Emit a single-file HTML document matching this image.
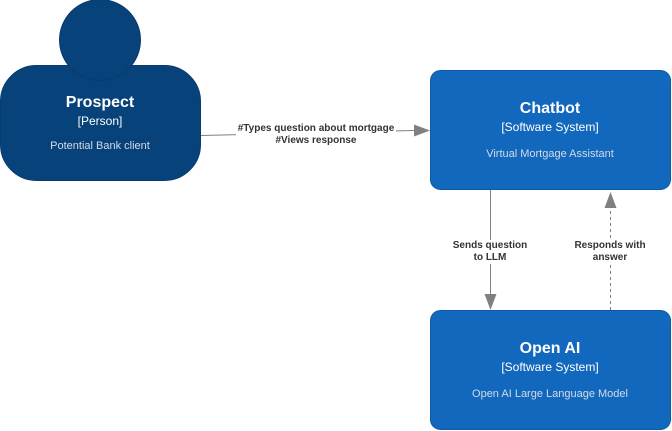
<!DOCTYPE html>
<html><head><style>
body{margin:0;width:672px;height:431px;background:#fff;position:relative;overflow:hidden;font-family:"Liberation Sans",Arial,sans-serif}
.b{position:absolute;color:#fff;text-align:center}
.t{font-weight:bold;font-size:16px}
.s{font-size:12px;margin-top:2px}
.d{font-size:11px;color:#d4dbe6;margin-top:14px}
.l{position:absolute;font-size:10px;font-weight:bold;color:#333;text-align:center;line-height:12px;background:#fff}
</style></head><body>
<svg width="672" height="431" style="position:absolute;left:0;top:0">
<rect x="0.5" y="65.5" width="200" height="115" rx="36" fill="#08427b" stroke="#073b6f"/>
<circle cx="100" cy="40" r="40.5" fill="#08427b" stroke="#073b6f"/>
<rect x="430.5" y="70.5" width="240" height="119" rx="10" fill="#1168bd" stroke="#0e5aa6"/>
<rect x="430.5" y="310.5" width="240" height="119" rx="10" fill="#1168bd" stroke="#0e5aa6"/>
<line x1="201" y1="135.5" x2="415" y2="130.5" stroke="#808080" stroke-width="1"/>
<polygon points="430,130.5 414,124.5 414,136.5" fill="#808080"/>
<line x1="490.5" y1="190" x2="490.5" y2="296" stroke="#808080"/>
<polygon points="490.5,310 484.5,294 496.5,294" fill="#808080"/>
<line x1="610.5" y1="310" x2="610.5" y2="206" stroke="#808080" stroke-dasharray="3,3"/>
<polygon points="610.5,192 604.5,208 616.5,208" fill="#808080"/>
</svg>
<div class="b" style="left:0;top:94px;width:200px"><div class="t">Prospect</div><div class="s">[Person]</div><div class="d" style="margin-top:12px">Potential Bank client</div></div>
<div class="b" style="left:430px;top:100px;width:240px"><div class="t">Chatbot</div><div class="s">[Software System]</div><div class="d">Virtual Mortgage Assistant</div></div>
<div class="b" style="left:430px;top:340px;width:240px"><div class="t">Open AI</div><div class="s">[Software System]</div><div class="d">Open AI Large Language Model</div></div>
<div class="l" style="left:236px;top:123px;width:160px">#Types question about mortgage<br>#Views response</div>
<div class="l" style="left:445px;top:240px;width:90px">Sends question<br>to LLM</div>
<div class="l" style="left:565px;top:240px;width:90px">Responds with<br>answer</div>
</body></html>
